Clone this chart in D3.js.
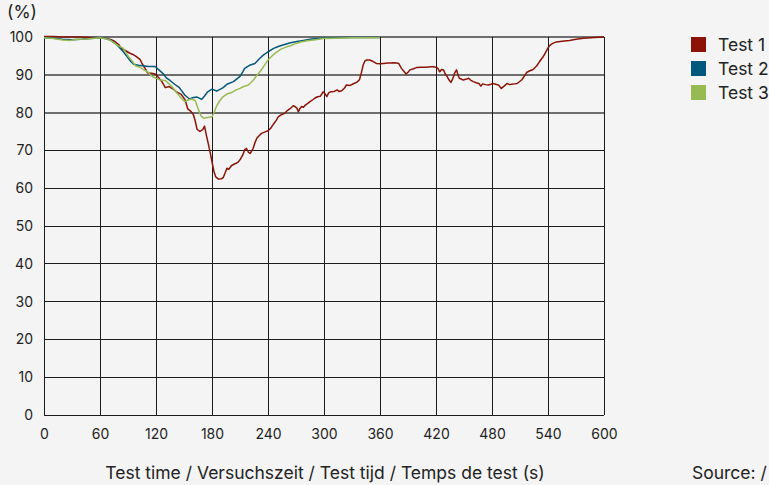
<!DOCTYPE html>
<html>
<head>
<meta charset="utf-8">
<script src="https://cdn.jsdelivr.net/npm/d3@7"></script>
<style>
  html, body { margin: 0; padding: 0; background: #f4f4f4; }
  svg { display: block; font-family: Inter, "Noto Sans", sans-serif; }
  .tick text { font-size: 14px; fill: #222; }
  .lbl { font-size: 17.5px; fill: #222; }
</style>
</head>
<body>
<div id="chart"></div>
<script>
// values, [seconds, percent]
var seriesNames = ["Test 1", "Test 2", "Test 3"];
var xTicks = [0, 60, 120, 180, 240, 300, 360, 420, 480, 540, 600];
var yTicks = [0, 10, 20, 30, 40, 50, 60, 70, 80, 90, 100];

var test1 = [[0,100.1],[10,100.1],[20,100],[30,100],[40,100],[50,99.9],[60,99.8],[67,99.6],[72,99.3],[76,98.8],[80,98],[83,97],[88,96.3],[92,95.7],[96,95.3],[99,94.8],[103,94],[105,93],[108,91.8],[111,90.5],[115,90.4],[119,90.2],[122,89.5],[126,88.3],[130,86.6],[134,86.9],[138,86.3],[142,85.5],[147,84.8],[151,83.5],[154,81],[157,80.4],[160,79.5],[162,77.8],[164,75.6],[167,75],[170,75.5],[172,76.4],[174,74],[176,71.8],[178,69.5],[180,67],[182,64.5],[184,63],[187,62.4],[190,62.5],[192,62.8],[194,64],[196,65.3],[198,65],[201,66],[204,66.4],[206,66.6],[208,66.9],[210,67.5],[213,68.8],[215,70.2],[217,70.5],[219,69.5],[221,69.2],[224,70.5],[226,72],[228,73.2],[231,74],[233,74.5],[237,74.9],[240,75.2],[243,75.9],[246,77],[249,78],[251,78.9],[254,79.4],[258,79.8],[261,80.6],[264,81.1],[267,81.8],[269,81.6],[271,81.2],[272.5,80.2],[274,81],[276,81.6],[278,81.4],[280,82],[283,82.5],[285,82.9],[288,83.4],[290,83.8],[293,84.2],[296,84.3],[299,85.5],[301,85],[303,84.2],[305,85.2],[307,85.5],[311,85.6],[314,86],[316,85.6],[319,85.8],[322,86.5],[324,87.3],[328,87.2],[332,87.7],[335,88],[338,88.7],[340,90.5],[342,92.6],[344,93.7],[346,93.9],[349,93.9],[352,93.6],[356,93],[360,92.9],[364,93],[368,93.1],[371,93.1],[374,93.2],[378,93.1],[380,93],[383,91.7],[386,90.8],[388,90.2],[390,90.7],[392,91.3],[396,91.6],[399,91.9],[404,92],[410,92],[414,92.1],[417,92.1],[420,92],[422,91.7],[424,90.8],[426,91.4],[428,91.3],[430,90.2],[432,89.5],[434,88.6],[436,88],[438,89],[440,90.5],[442,91.3],[443.5,90],[445,89.1],[447,88.9],[449,88.6],[452,88.8],[455,89.1],[457,88.6],[460,88.2],[463,87.9],[466,87.7],[468,87],[470,87.6],[473,87.4],[476,87.3],[479,87.5],[481,87.7],[484,87.5],[487,87.3],[490,86.4],[493,87],[496,87.7],[499,87.4],[501,87.5],[504,87.6],[507,87.7],[510,88.3],[512,88.7],[515,89.8],[517,90.6],[520,91],[524,91.4],[528,92.4],[531,93.5],[534,94.5],[537,95.7],[540,97.1],[542,97.8],[545,98.3],[549,98.7],[555,98.9],[563,99.1],[570,99.4],[578,99.7],[590,99.9],[600,100]];

var test2 = [[0,99.9],[10,99.7],[20,99.4],[30,99.3],[40,99.4],[50,99.6],[60,99.8],[66,99.6],[71,99.2],[76,98.4],[80,97.4],[85,96.1],[89,94.8],[93,93.5],[96,92.8],[101,92.5],[106,92.4],[112,92.2],[119,92.2],[124,91.1],[128,90.2],[131,89.2],[135,88.5],[140,87.5],[145,86.6],[151,84.6],[156,83.6],[160,84],[164,84.1],[169,83.5],[172,84.4],[175,85.4],[180,86.2],[185,85.7],[189,86.2],[192,86.6],[196,87.5],[203,88.2],[207,89],[210,89.6],[213,90.8],[215,91.7],[221,92.6],[226,93],[231,94.3],[235,95.2],[239,95.9],[246,97],[251,97.5],[256,97.9],[263,98.4],[271,98.8],[278,99.1],[285,99.4],[292,99.6],[299,99.7],[310,99.8],[325,99.9],[340,99.9],[360,99.9]];

var test3 = [[0,99.8],[10,99.6],[20,99.2],[28,99.1],[35,99.4],[45,99.5],[55,99.7],[60,99.8],[67,99.5],[72,99],[78,97.9],[85,97],[90,95],[94,93.8],[98,92.4],[103,92],[107,91.3],[111,90.8],[114,90],[117,89.4],[121,89],[125,88.6],[130,88.5],[134,87.6],[137,86.9],[142,85.3],[146,84.1],[151,82.9],[155,83.4],[158,83.6],[162,83.2],[165,81.1],[168,79.2],[171,78.5],[175,78.7],[180,78.9],[183,80.5],[185,81.8],[188,83],[191,84],[196,84.9],[201,85.3],[206,86],[210,86.4],[214,86.9],[219,87.3],[224,88.5],[228,89.8],[232,91],[235,92.1],[240,93.9],[244,94.9],[248,95.8],[254,96.8],[260,97.4],[264,97.7],[270,98.3],[275,98.7],[282,99],[289,99.2],[299,99.6],[310,99.7],[330,99.8],[360,99.8]];

var colors = ["#8b1407", "#04577c", "#97bb53"];

var width = 769, height = 485;
var margin = {left: 44, right: 165, top: 37, bottom: 70};

var svg = d3.select("#chart")
  .append("svg")
  .attr("width", width)
  .attr("height", height);

var x = d3.scaleLinear().domain([0, 600]).range([margin.left, width - margin.right]);
var y = d3.scaleLinear().domain([0, 100]).range([height - margin.bottom, margin.top]);

// grid
svg.append("g")
  .attr("shape-rendering", "crispEdges")
  .selectAll("line.h")
  .data(yTicks)
  .enter().append("line")
    .attr("x1", x(0)).attr("x2", x(600))
    .attr("y1", function(d) { return y(d); })
    .attr("y2", function(d) { return y(d); })
    .attr("stroke", function(d) { return (d >= 80) ? "#6e6e6e" : "#1c1c1c"; })
    .attr("stroke-width", function(d) { return (d >= 80) ? 2 : 1; });

svg.append("g")
  .attr("shape-rendering", "crispEdges")
  .selectAll("line.v")
  .data(xTicks)
  .enter().append("line")
    .attr("y1", y(0)).attr("y2", y(100))
    .attr("x1", function(d) { return x(d); })
    .attr("x2", function(d) { return x(d); })
    .attr("stroke", "#1c1c1c")
    .attr("stroke-width", 1);

// axes (labels only)
var yAxis = svg.append("g")
  .attr("transform", "translate(" + margin.left + ",0)")
  .call(d3.axisLeft(y).tickValues(yTicks).tickSize(0).tickPadding(11));
yAxis.select(".domain").remove();

var xAxis = svg.append("g")
  .attr("transform", "translate(0," + y(0) + ")")
  .call(d3.axisBottom(x).tickValues(xTicks).tickSize(0).tickPadding(14));
xAxis.select(".domain").remove();

svg.selectAll(".tick text").style("font-family", "Inter, 'Noto Sans', sans-serif");

// lines
var line = d3.line()
  .x(function(d) { return x(d[0]); })
  .y(function(d) { return y(d[1]); });

[test1, test2, test3].forEach(function(s, i) {
  svg.append("path")
    .datum(s)
    .attr("fill", "none")
    .attr("stroke", colors[i])
    .attr("stroke-width", 1.5)
    .attr("stroke-linejoin", "round")
    .attr("d", line);
});

// labels
svg.append("text").attr("class", "lbl")
  .attr("x", 7).attr("y", 18)
  .text("(%)");

svg.append("text").attr("class", "lbl")
  .attr("x", 325).attr("y", 479)
  .attr("text-anchor", "middle")
  .text("Test time / Versuchszeit / Test tijd / Temps de test (s)");

svg.append("text").attr("class", "lbl")
  .attr("x", 692).attr("y", 479)
  .text("Source: /");

// legend
var legend = svg.append("g")
  .selectAll("g")
  .data(seriesNames)
  .enter().append("g")
    .attr("transform", function(d, i) { return "translate(691," + (37 + i * 24) + ")"; });

legend.append("rect")
  .attr("width", 15).attr("height", 15)
  .attr("fill", function(d, i) { return colors[i]; });

legend.append("text").attr("class", "lbl")
  .attr("x", 27).attr("y", 14)
  .text(function(d) { return d; });
</script>
</body>
</html>
